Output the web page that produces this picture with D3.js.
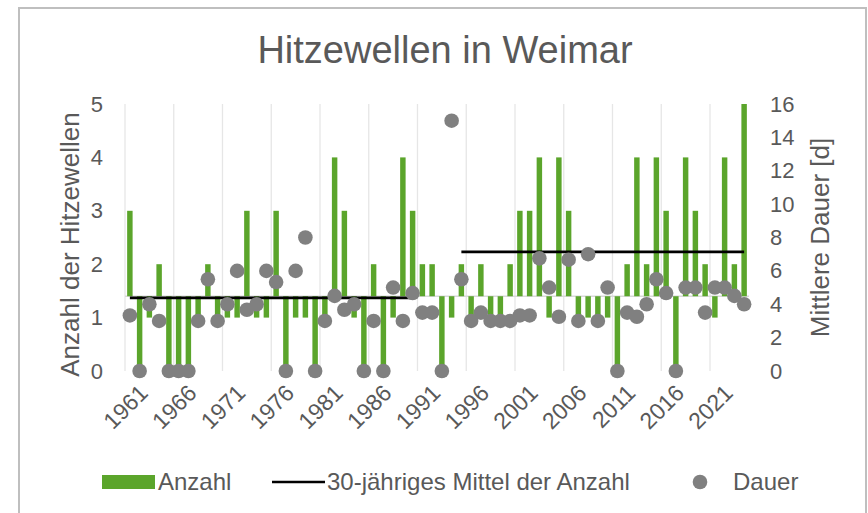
<!DOCTYPE html>
<html>
<head>
<meta charset="utf-8">
<script src="https://cdn.jsdelivr.net/npm/d3@7"></script>
<style>
  body { margin: 0; background: #fff; }
  text { font-family: "Liberation Sans", Arial, sans-serif; fill: #595959; }
</style>
</head>
<body>
<script>
// Hitzewellen in Weimar: Anzahl (bars, left axis), Dauer (dots, right axis)

var years = d3.range(1961, 2025);

var anzahl = [
  3, 0, 1, 2, 0, 0, 0, 1, 2, 1,   // 1961-1970
  1, 1, 3, 1, 1, 3, 0, 1, 1, 0,   // 1971-1980
  1, 4, 3, 1, 0, 2, 0, 1, 4, 3,   // 1981-1990
  2, 2, 0, 1, 2, 1, 2, 1, 1, 2,   // 1991-2000
  3, 3, 4, 1, 4, 3, 1, 1, 1, 1,   // 2001-2010
  0, 2, 4, 2, 4, 3, 0, 4, 3, 2,   // 2011-2020
  1, 4, 2, 5                      // 2021-2024
];

var dauer = [
  3.33, 0, 4, 3, 0, 0, 0, 3, 5.5, 3,
  4, 6, 3.67, 4, 6, 5.33, 0, 6, 8, 0,
  3, 4.5, 3.67, 4, 0, 3, 0, 5, 3, 4.67,
  3.5, 3.5, 0, 15, 5.5, 3, 3.5, 3, 3, 3,
  3.33, 3.33, 6.75, 5, 3.25, 6.67, 3, 7, 3, 5,
  0, 3.5, 3.25, 4, 5.5, 4.67, 0, 5, 5, 3.5,
  5, 5, 4.5, 4
];

// 30-jähriges Mittel der Anzahl
var mittelVon = [1961, 1995];
var mittelBis = [1990, 2024];
var mittelWert = [1.37, 2.23];

var leftTicks = [0, 1, 2, 3, 4, 5];
var rightTicks = [0, 2, 4, 6, 8, 10, 12, 14, 16];
var yearLabels = d3.range(1961, 2025, 5);

var axisCross = 1.4; // horizontal axis crosses the left axis here

var W = 868, H = 513;
var plot = { left: 125, right: 749, top: 104, bottom: 371 };

var svg = d3.select('body')
  .append('svg')
    .attr('width', W)
    .attr('height', H);

// chart area border
svg.append('rect')
  .attr('x', 19).attr('y', 8)
  .attr('width', 847).attr('height', 530)
  .attr('fill', '#fff')
  .attr('stroke', '#bfbfbf')
  .attr('stroke-width', 2);

var x = d3.scaleBand()
    .domain(years)
    .range([plot.left, plot.right])
    .paddingInner(0.44)
    .paddingOuter(0.22);

var yL = d3.scaleLinear().domain([0, 5]).range([plot.bottom, plot.top]);
var yR = d3.scaleLinear().domain([0, 16]).range([plot.bottom, plot.top]);

var step = x.step();
var cx = d => x(d) + x.bandwidth() / 2;

// vertical gridlines every 5 categories
svg.append('g')
  .selectAll('line')
  .data(yearLabels)
  .enter().append('line')
    .attr('x1', d => cx(d) - step / 2)
    .attr('x2', d => cx(d) - step / 2)
    .attr('y1', plot.top)
    .attr('y2', plot.bottom)
    .attr('stroke', '#e6e6e6')
    .attr('stroke-width', 1.3);

// horizontal axis line (at the crossing value)
svg.append('line')
  .attr('x1', plot.left).attr('x2', plot.right)
  .attr('y1', yL(axisCross)).attr('y2', yL(axisCross))
  .attr('stroke', '#d9d9d9')
  .attr('stroke-width', 1.5);

// bars from the axis crossing
svg.append('g')
  .selectAll('rect')
  .data(years)
  .enter().append('rect')
    .attr('x', d => x(d))
    .attr('width', x.bandwidth())
    .attr('y', (d, i) => Math.min(yL(anzahl[i]), yL(axisCross)))
    .attr('height', (d, i) => Math.abs(yL(anzahl[i]) - yL(axisCross)))
    .attr('fill', '#5ba52b');

// mean lines
svg.append('g')
  .selectAll('line')
  .data(mittelWert)
  .enter().append('line')
    .attr('x1', (d, i) => cx(mittelVon[i]))
    .attr('x2', (d, i) => cx(mittelBis[i]))
    .attr('y1', d => yL(d))
    .attr('y2', d => yL(d))
    .attr('stroke', '#000')
    .attr('stroke-width', 2.6);

// Dauer dots
svg.append('g')
  .selectAll('circle')
  .data(years)
  .enter().append('circle')
    .attr('cx', d => cx(d))
    .attr('cy', (d, i) => yR(dauer[i]))
    .attr('r', 7.3)
    .attr('fill', '#808080');

// left axis
var leftAxis = svg.append('g')
  .attr('transform', 'translate(' + (plot.left - 22) + ',0)')
  .call(d3.axisLeft(yL).tickValues(leftTicks).tickFormat(d3.format('d')).tickSize(0).tickPadding(0));
leftAxis.select('.domain').remove();
leftAxis.selectAll('text')
  .style('font-size', '22px')
  .attr('fill', '#595959');

// right axis
var rightAxis = svg.append('g')
  .attr('transform', 'translate(' + (plot.right + 21) + ',0)')
  .call(d3.axisRight(yR).tickValues(rightTicks).tickFormat(d3.format('d')).tickSize(0).tickPadding(0));
rightAxis.select('.domain').remove();
rightAxis.selectAll('text')
  .style('font-size', '22px')
  .attr('fill', '#595959');

// x axis labels, rotated
var xAxis = svg.append('g')
  .attr('transform', 'translate(0,' + (plot.bottom + 12) + ')')
  .call(d3.axisBottom(x).tickValues(yearLabels).tickSize(0).tickPadding(0));
xAxis.select('.domain').remove();
xAxis.selectAll('text')
  .style('font-size', '23px')
  .attr('fill', '#595959')
  .attr('text-anchor', 'end')
  .attr('dy', '0.7em')
  .attr('transform', 'translate(8,0) rotate(-45)');

// title
svg.append('text')
  .attr('x', 445).attr('y', 63)
  .attr('text-anchor', 'middle')
  .style('font-size', '38px')
  .text('Hitzewellen in Weimar');

// axis titles
svg.append('text')
  .attr('transform', 'translate(79,' + ((plot.top + plot.bottom) / 2 + 7) + ') rotate(-90)')
  .attr('text-anchor', 'middle')
  .style('font-size', '26px')
  .text('Anzahl der Hitzewellen');

svg.append('text')
  .attr('transform', 'translate(829,' + ((plot.top + plot.bottom) / 2) + ') rotate(-90)')
  .attr('text-anchor', 'middle')
  .style('font-size', '26px')
  .text('Mittlere Dauer [d]');

// legend
var lg = svg.append('g').attr('transform', 'translate(0,482)');
lg.append('rect')
  .attr('x', 102).attr('y', -7).attr('width', 53).attr('height', 14)
  .attr('fill', '#5ba52b');
lg.append('text')
  .attr('x', 158).attr('dy', '0.35em')
  .style('font-size', '24px')
  .text('Anzahl');
lg.append('line')
  .attr('x1', 272).attr('x2', 325)
  .attr('stroke', '#000').attr('stroke-width', 2.6);
lg.append('text')
  .attr('x', 327).attr('dy', '0.35em')
  .style('font-size', '24px')
  .text('30-jähriges Mittel der Anzahl');
lg.append('circle')
  .attr('cx', 700).attr('r', 7.3)
  .attr('fill', '#808080');
lg.append('text')
  .attr('x', 733).attr('dy', '0.35em')
  .style('font-size', '24px')
  .text('Dauer');
</script>
</body>
</html>
